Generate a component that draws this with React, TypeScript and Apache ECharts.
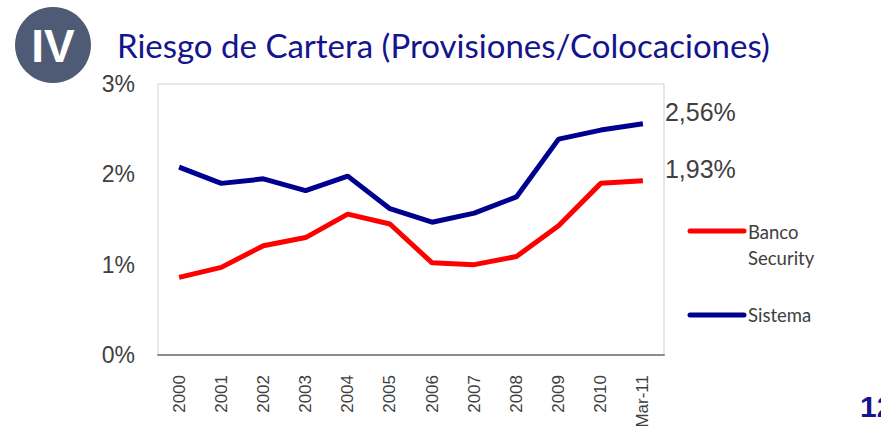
import React, { useEffect, useRef } from "react";
import * as echarts from "echarts";

const categories = ["2000", "2001", "2002", "2003", "2004", "2005", "2006", "2007", "2008", "2009", "2010", "Mar-11"];
const bancoSecurity = [0.86, 0.97, 1.21, 1.30, 1.56, 1.45, 1.02, 1.00, 1.09, 1.43, 1.90, 1.93];
const sistema = [2.08, 1.90, 1.95, 1.82, 1.98, 1.62, 1.47, 1.57, 1.75, 2.39, 2.49, 2.56];
const yTicks = [0, 1, 2, 3];
const seriesNames = ["Banco Security", "Sistema"];

const fmt = (v: number) => v.toFixed(2).replace(".", ",") + "%";

export default function App() {
  const ref = useRef<HTMLDivElement>(null);
  useEffect(() => {
    if (!ref.current) return;
    const chart = echarts.init(ref.current, null, { renderer: "svg" });
    const axisFont = "'Liberation Sans', Arial, sans-serif";
    const endLabel = {
      show: true,
      formatter: (p: any) => fmt(p.value),
      fontSize: 25,
      fontFamily: axisFont,
      color: "#404040",
      distance: 22,
      offset: [0, -12],
    };
    chart.setOption({
      animation: false,
      backgroundColor: "#ffffff",
      grid: {
        left: 158,
        right: 217,
        top: 84,
        bottom: 86,
        show: true,
        borderColor: "#d0d0d0",
        borderWidth: 1,
      },
      xAxis: {
        type: "category",
        data: categories,
        boundaryGap: true,
        axisLine: { show: true, lineStyle: { color: "#8c8c8c", width: 2 } },
        axisTick: { show: false },
        axisLabel: {
          rotate: 90,
          fontSize: 17,
          fontFamily: axisFont,
          color: "#404040",
          margin: 20,
        },
      },
      yAxis: {
        type: "value",
        min: yTicks[0],
        max: yTicks[yTicks.length - 1],
        interval: 1,
        axisLine: { show: false },
        axisTick: { show: false },
        splitLine: { show: false },
        axisLabel: {
          formatter: "{value}%",
          fontSize: 23,
          fontFamily: axisFont,
          color: "#404040",
          margin: 23,
        },
      },
      series: [
        {
          name: seriesNames[0],
          type: "line",
          data: bancoSecurity,
          symbol: "none",
          lineStyle: { color: "#ff0000", width: 5 },
          itemStyle: { color: "#ff0000" },
          endLabel,
        },
        {
          name: seriesNames[1],
          type: "line",
          data: sistema,
          symbol: "none",
          lineStyle: { color: "#000090", width: 5 },
          itemStyle: { color: "#000090" },
          endLabel,
        },
      ],
      graphic: [
        { type: "circle", shape: { cx: 53, cy: 45, r: 38 }, style: { fill: "#4f5b75" } },
        {
          type: "text",
          x: 53,
          y: 46,
          style: {
            text: "IV",
            fill: "#ffffff",
            font: "bold 46px 'Liberation Sans', Arial, sans-serif",
            align: "center",
            verticalAlign: "middle",
          },
        },
        {
          type: "text",
          x: 117,
          y: 45,
          style: {
            text: "Riesgo de Cartera (Provisiones/Colocaciones)",
            fill: "#14148c",
            font: "33px Lato, sans-serif",
            verticalAlign: "middle",
          },
        },
        { type: "line", shape: { x1: 690, y1: 231, x2: 744, y2: 231 }, style: { stroke: "#ff0000", lineWidth: 5, lineCap: "round" } },
        {
          type: "text",
          x: 748,
          y: 245,
          style: {
            text: "Banco\nSecurity",
            fill: "#404040",
            font: "18.5px Lato, sans-serif",
            lineHeight: 26,
            verticalAlign: "middle",
          },
        },
        { type: "line", shape: { x1: 690, y1: 315, x2: 744, y2: 315 }, style: { stroke: "#000090", lineWidth: 5, lineCap: "round" } },
        {
          type: "text",
          x: 748,
          y: 315,
          style: { text: "Sistema", fill: "#404040", font: "18.5px Lato, sans-serif", verticalAlign: "middle" },
        },
        {
          type: "text",
          x: 860,
          y: 406,
          style: { text: "12", fill: "#14148c", font: "bold 30px 'Liberation Sans', Arial, sans-serif", verticalAlign: "middle" },
        },
      ],
    });
    return () => chart.dispose();
  }, []);
  return <div ref={ref} style={{ position: "fixed", left: 0, top: 0, width: 881, height: 441 }} />;
}
